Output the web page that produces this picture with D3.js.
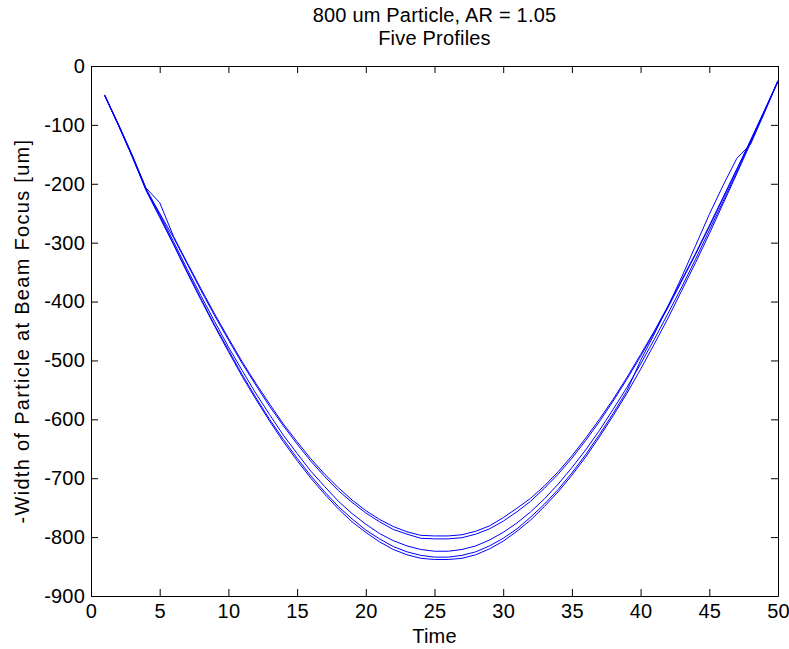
<!DOCTYPE html>
<html>
<head>
<meta charset="utf-8">
<script src="https://cdn.jsdelivr.net/npm/d3@7"></script>
<style>
  body { margin: 0; background: #fff; }
  svg text { font-family: "Liberation Sans", Arial, sans-serif; font-size: 20px; letter-spacing: 0.2px; fill: #000; }
</style>
</head>
<body>
<div id="chart"></div>
<script>
const width = 789;
const height = 649;
const margin = {top: 66, right: 11, bottom: 53, left: 91};

const titleLines = ['800 um Particle, AR = 1.05', 'Five Profiles'];
const xLabel = 'Time';
const yLabel = '-Width of Particle at Beam Focus [um]';

const xTicks = [0, 5, 10, 15, 20, 25, 30, 35, 40, 45, 50];
const yTicks = [0, -100, -200, -300, -400, -500, -600, -700, -800, -900];

// time steps 1..50
const time = [1, 2, 3, 4, 5, 6, 7, 8, 9, 10, 11, 12, 13, 14, 15, 16, 17, 18, 19, 20,
  21, 22, 23, 24, 25, 26, 27, 28, 29, 30, 31, 32, 33, 34, 35, 36, 37, 38, 39, 40,
  41, 42, 43, 44, 45, 46, 47, 48, 49, 50];

// five width profiles (negated)
const profile1 = [-50, -100, -152, -207, -232, -289, -334, -378, -421, -462,
  -502, -539, -574, -608, -638, -667, -693, -716, -737, -755,
  -770, -782, -791, -797, -798, -798, -796, -790, -781, -767,
  -751, -734, -713, -689, -662, -632, -600, -566, -529, -490,
  -450, -407, -363, -318, -271, -223, -175, -128, -77, -25];
const profile2 = [-51, -101, -154, -209, -250, -291, -336, -381, -424, -465,
  -505, -542, -578, -611, -642, -671, -697, -721, -741, -759,
  -774, -787, -795, -802, -803, -803, -801, -795, -786, -773,
  -757, -739, -717, -693, -666, -636, -604, -569, -532, -493,
  -452, -410, -365, -320, -273, -225, -176, -126, -76, -25];
const profile3 = [-50, -99, -151, -208, -252, -298, -345, -390, -434, -477,
  -517, -556, -592, -627, -658, -688, -714, -739, -760, -778,
  -794, -806, -815, -821, -824, -824, -821, -815, -805, -792,
  -776, -757, -735, -710, -682, -652, -619, -583, -546, -506,
  -464, -420, -375, -328, -279, -230, -180, -129, -78, -26];
const profile4 = [-49, -100, -153, -210, -255, -302, -349, -395, -440, -482,
  -524, -563, -600, -634, -666, -696, -723, -748, -769, -788,
  -803, -816, -825, -831, -834, -834, -831, -825, -815, -802,
  -786, -766, -744, -719, -691, -660, -626, -590, -552, -500,
  -455, -408, -358, -305, -252, -203, -157, -133, -80, -25];
const profile5 = [-50, -101, -154, -211, -257, -303, -351, -397, -442, -485,
  -527, -566, -603, -638, -670, -700, -727, -752, -774, -792,
  -808, -821, -830, -836, -838, -838, -836, -830, -820, -807,
  -790, -771, -748, -723, -695, -664, -630, -594, -556, -515,
  -472, -428, -381, -334, -285, -234, -183, -131, -79, -26];

const profiles = [profile1, profile2, profile3, profile4, profile5];

const lineColor = '#0000ff';
const tickLength = 7;

const plotW = width - margin.left - margin.right;
const plotH = height - margin.top - margin.bottom;

const svg = d3.select('#chart')
  .append('svg')
  .attr('width', width)
  .attr('height', height);

const g = svg.append('g')
  .attr('transform', `translate(${margin.left}, ${margin.top})`);

const xScale = d3.scaleLinear().domain([0, 50]).range([0, plotW]);
const yScale = d3.scaleLinear().domain([-900, 0]).range([plotH, 0]);

// plain hyphen minus like matlab, not the unicode minus d3.format gives
const plainFormat = d => String(d);

// axes, ticks pointing inwards (matlab style), mirrored on top/right
const xAxis = d3.axisBottom(xScale).tickValues(xTicks).tickFormat(plainFormat)
  .tickSizeInner(-tickLength).tickSizeOuter(0).tickPadding(8);
const yAxis = d3.axisLeft(yScale).tickValues(yTicks).tickFormat(plainFormat)
  .tickSizeInner(-tickLength).tickSizeOuter(0).tickPadding(6);
const xAxisTop = d3.axisTop(xScale).tickValues(xTicks).tickFormat('')
  .tickSizeInner(-tickLength).tickSizeOuter(0);
const yAxisRight = d3.axisRight(yScale).tickValues(yTicks).tickFormat('')
  .tickSizeInner(-tickLength).tickSizeOuter(0);

function styleAxis(sel) {
  sel.selectAll('path').attr('stroke', '#000').attr('stroke-width', 1);
  sel.selectAll('line').attr('stroke', '#000').attr('stroke-width', 1);
  sel.selectAll('text').attr('fill', '#000');
  sel.attr('font-family', null).attr('font-size', null);
}

g.append('g').attr('transform', `translate(0, ${plotH})`).call(xAxis).call(styleAxis);
g.append('g').call(yAxis).call(styleAxis);
g.append('g').call(xAxisTop).call(styleAxis);
g.append('g').attr('transform', `translate(${plotW}, 0)`).call(yAxisRight).call(styleAxis);

// profiles
const line = d3.line()
  .x((d, i) => xScale(time[i]))
  .y(d => yScale(d));

g.append('g')
  .selectAll('path')
  .data(profiles)
  .join('path')
  .attr('fill', 'none')
  .attr('stroke', lineColor)
  .attr('stroke-width', 1)
  .attr('d', line);

// title
svg.append('text')
  .attr('x', margin.left + plotW / 2)
  .attr('y', 22)
  .attr('text-anchor', 'middle')
  .selectAll('tspan')
  .data(titleLines)
  .join('tspan')
  .attr('x', margin.left + plotW / 2)
  .attr('dy', (d, i) => i === 0 ? 0 : 23)
  .text(d => d);

svg.append('text')
  .attr('x', margin.left + plotW / 2)
  .attr('y', 643)
  .attr('text-anchor', 'middle')
  .text(xLabel);

svg.append('text')
  .attr('transform', `translate(29, ${margin.top + plotH / 2}) rotate(-90)`)
  .attr('text-anchor', 'middle')
  .style('letter-spacing', '1.3px')
  .text(yLabel);
</script>
</body>
</html>
